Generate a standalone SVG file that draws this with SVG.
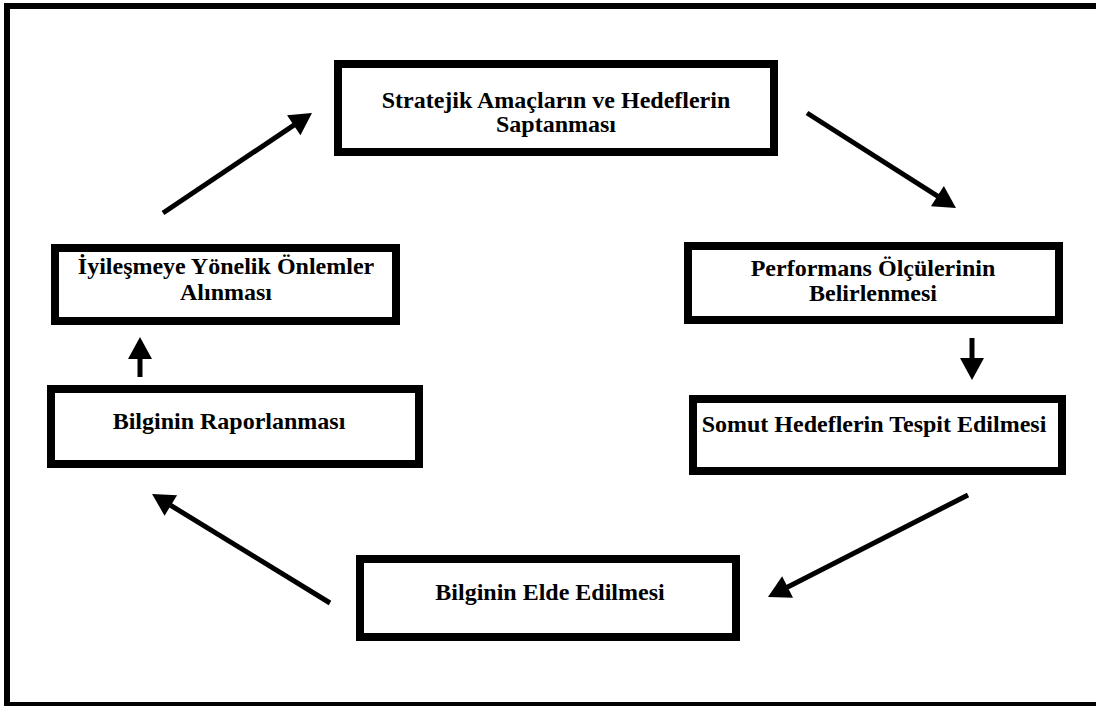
<svg xmlns="http://www.w3.org/2000/svg" width="1096" height="706" viewBox="0 0 1096 706">
<style>
.frame{fill:none;stroke:#000;stroke-width:6}
.box{fill:#fff;stroke:#000;stroke-width:8}
.lbl{font-family:"Liberation Serif","Times New Roman",serif;font-weight:bold;font-size:24px;fill:#000;text-anchor:middle}
.con{stroke:#000;stroke-width:5;fill:none;marker-end:url(#ah)}
</style>
<defs>
<marker id="ah" markerUnits="userSpaceOnUse" markerWidth="24" markerHeight="26" refX="2" refY="12" orient="auto" viewBox="0 0 24 24" overflow="visible">
<path d="M0,0 L22,12 L0,24 z" fill="#000"/>
</marker>
</defs>
<rect width="1096" height="706" fill="#fff"/>
<rect class="frame" x="7" y="6" width="1100" height="699"/>
<g id="connectors">
<line class="con" x1="163" y1="213" x2="295.4" y2="124.1"/>
<line class="con" x1="807" y1="113" x2="939.1" y2="197.2"/>
<line class="con" x1="972" y1="338" x2="972" y2="360"/>
<line class="con" x1="968" y1="495" x2="785.8" y2="587.9"/>
<line class="con" x1="330" y1="603" x2="169.1" y2="504.4"/>
<line class="con" x1="140" y1="377" x2="140" y2="357"/>
</g>
<g id="n1">
<rect class="box" x="338" y="64" width="436" height="88"/>
<text class="lbl" x="556" y="108">Stratejik Amaçların ve Hedeflerin</text>
<text class="lbl" x="556" y="132">Saptanması</text>
</g>
<g id="n2">
<rect class="box" x="688" y="246" width="371" height="74"/>
<text class="lbl" x="873" y="276">Performans Ölçülerinin</text>
<text class="lbl" x="873" y="301">Belirlenmesi</text>
</g>
<g id="n3">
<rect class="box" x="693" y="399" width="369" height="72"/>
<text class="lbl" x="874" y="432">Somut Hedeflerin Tespit Edilmesi</text>
</g>
<g id="n4">
<rect class="box" x="360" y="559" width="376" height="78"/>
<text class="lbl" x="550" y="600">Bilginin Elde Edilmesi</text>
</g>
<g id="n5">
<rect class="box" x="51" y="389" width="368" height="75"/>
<text class="lbl" x="229" y="429">Bilginin Raporlanması</text>
</g>
<g id="n6">
<rect class="box" x="55" y="248" width="341" height="73"/>
<text class="lbl" x="226" y="274">İyileşmeye Yönelik Önlemler</text>
<text class="lbl" x="226" y="300">Alınması</text>
</g>
</svg>
